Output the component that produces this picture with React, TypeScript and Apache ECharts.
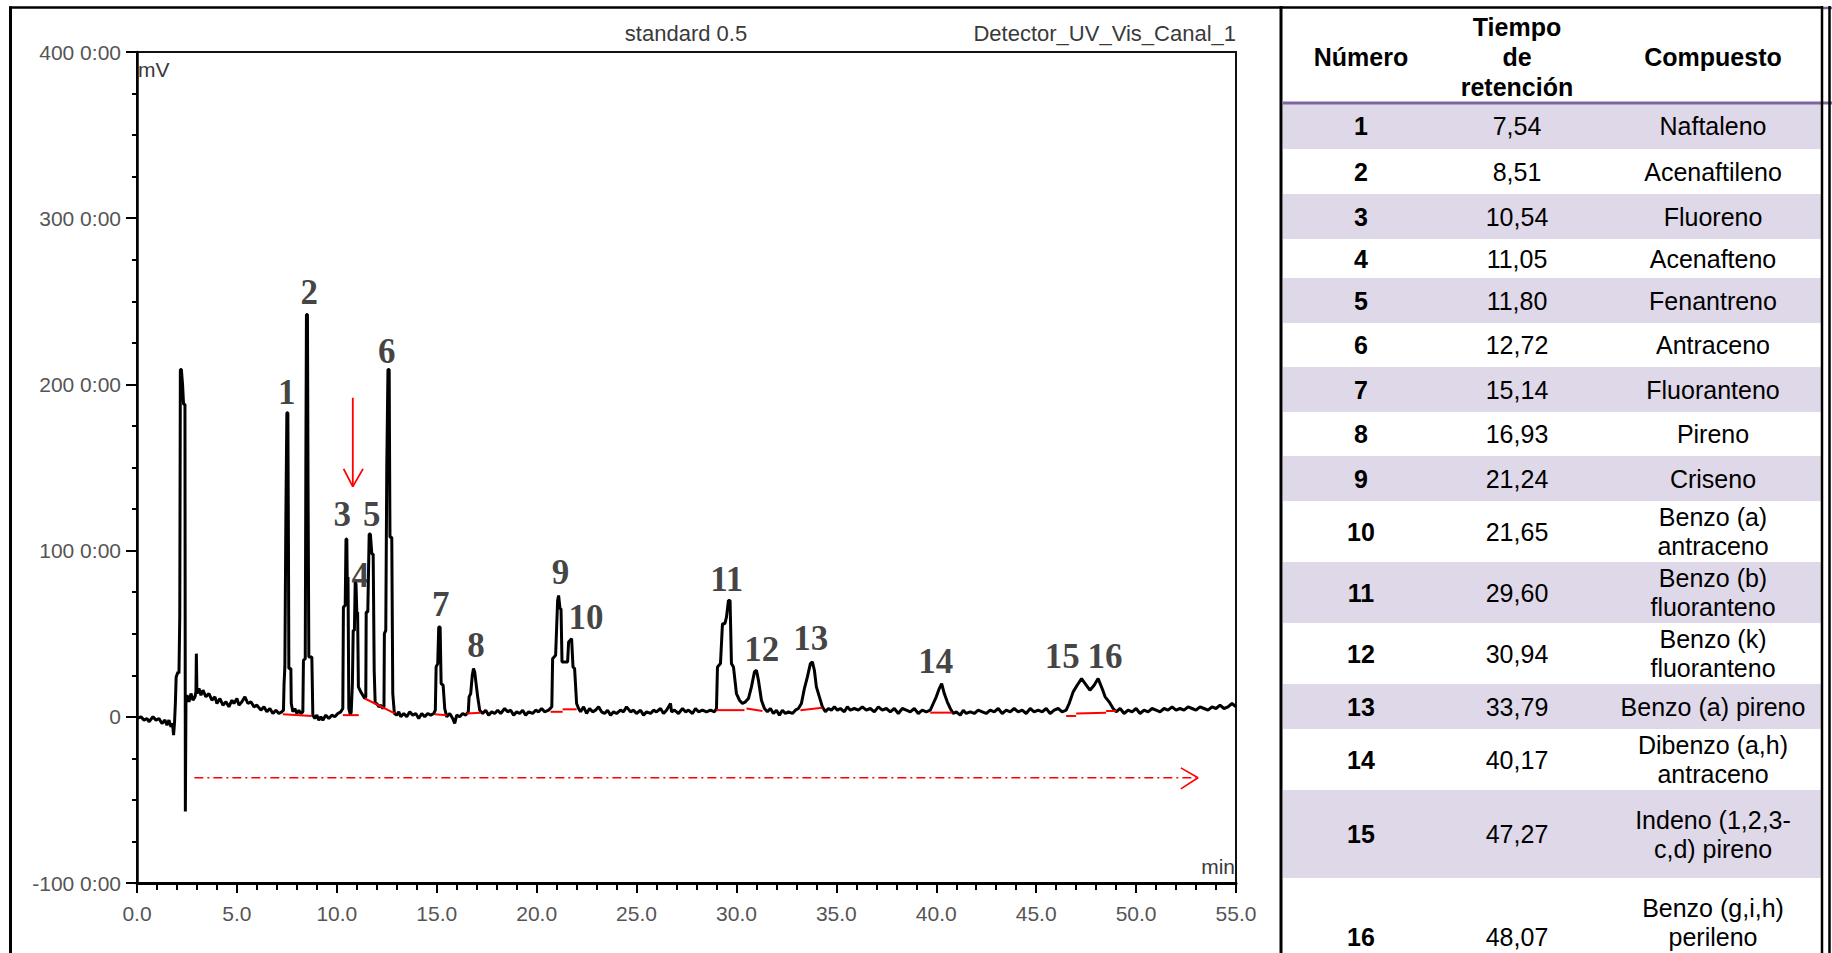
import React, { useEffect, useRef } from 'react';
import * as echarts from 'echarts';

// ---------- chromatogram trace (time in min, signal in thousands) ----------
const injectionTrace = [
  [0, -1], [0.2, 0], [0.35, -2], [0.5, -1], [0.6, -3], [0.8, 0], [0.95, -2], [1.1, -1], [1.25, -4], [1.4, -2],
  [1.5, -5], [1.6, -2], [1.7, -6], [1.78, -4], [1.83, -11], [1.88, -3], [1.92, 8], [1.96, 24], [2.05, 27], [2.1, 26],
  [2.14, 60], [2.17, 209], [2.22, 209], [2.28, 200], [2.33, 188], [2.4, 188], [2.42, -57], [2.45, 10], [2.5, 13],
  [2.6, 9], [2.7, 14], [2.8, 10], [2.9, 12], [2.95, 15], [2.97, 38], [3.0, 14], [3.1, 17], [3.2, 13], [3.3, 16],
  [3.45, 12], [3.6, 14], [3.75, 10], [3.9, 12], [4.0, 8], [4.15, 11], [4.3, 7], [4.45, 9], [4.6, 6], [4.75, 10],
  [4.85, 8], [5.0, 11], [5.1, 7], [5.25, 9], [5.4, 12], [5.55, 8], [5.7, 9], [5.85, 6], [6.0, 7], [6.2, 4],
  [6.35, 6], [6.5, 3], [6.65, 5], [6.8, 2], [6.95, 4], [7.1, 2], [7.25, 3],
];
const earlyPeaksTrace = [
  [7.33, 4], [7.36, 20], [7.4, 30], [7.43, 30], [7.45, 120], [7.5, 183], [7.55, 183], [7.58, 100], [7.6, 29],
  [7.7, 29], [7.72, 8], [7.8, 3], [7.9, 5], [8.0, 2], [8.1, 4], [8.2, 2],
  [8.3, 3], [8.33, 34], [8.42, 35], [8.45, 150], [8.48, 242], [8.53, 242], [8.56, 140], [8.6, 36], [8.75, 36],
  [8.8, 1], [8.9, -1], [9.0, 1], [9.1, -2], [9.2, 0], [9.3, -2], [9.45, 1], [9.6, -1], [9.75, 1], [9.9, 0],
  [10.05, 2], [10.2, 3],
  [10.3, 5], [10.33, 66], [10.42, 67], [10.46, 107], [10.5, 107], [10.52, 84], [10.56, 84], [10.6, 5], [10.68, 1],
  [10.72, 3], [10.78, 20], [10.82, 52], [10.88, 52], [10.92, 81], [10.96, 80], [11.0, 63], [11.04, 63], [11.08, 18],
  [11.2, 15], [11.3, 13], [11.4, 11], [11.45, 12], [11.47, 63], [11.55, 63], [11.62, 110], [11.68, 110],
  [11.75, 98], [11.82, 98], [11.87, 28], [11.92, 8], [12.0, 8], [12.1, 6], [12.2, 7], [12.3, 5],
  [12.36, 6], [12.38, 50], [12.45, 52], [12.5, 150], [12.56, 209], [12.62, 209], [12.66, 108], [12.75, 108],
  [12.8, 14], [12.88, 2], [13.0, 1], [13.1, 3], [13.2, 0], [13.35, 2], [13.5, 0], [13.65, 3], [13.8, 1],
  [13.95, 2], [14.1, -1], [14.25, 2], [14.4, 0], [14.55, 2], [14.7, 1], [14.85, 2],
];
const middlePeaksTrace = [
  [14.93, 4], [14.97, 30], [15.05, 32], [15.1, 54], [15.17, 54], [15.22, 20], [15.32, 19], [15.4, 5], [15.5, 0],
  [15.65, 2], [15.8, -1], [15.9, -4], [16.0, 1], [16.15, 0], [16.3, 2], [16.45, 1],
  [16.58, 3], [16.62, 12], [16.7, 14], [16.78, 25], [16.84, 29], [16.9, 27], [16.97, 20], [17.05, 12], [17.15, 4],
  [17.3, 2], [17.45, 4], [17.6, 1], [17.75, 3], [17.9, 2], [18.05, 4], [18.2, 2], [18.4, 5], [18.55, 3],
  [18.7, 4], [18.85, 1], [19.0, 3], [19.15, 2], [19.3, 4], [19.45, 1], [19.6, 3], [19.8, 2], [19.95, 4],
  [20.1, 3], [20.25, 5], [20.4, 3], [20.6, 4],
  [20.76, 6], [20.8, 35], [20.95, 37], [21.05, 70], [21.1, 73], [21.17, 65], [21.22, 65], [21.27, 33],
  [21.55, 33], [21.6, 45], [21.75, 47], [21.82, 30], [21.9, 29], [22.0, 8], [22.1, 5], [22.2, 3], [22.35, 6],
  [22.5, 2], [22.65, 5], [22.8, 3], [22.95, 4], [23.1, 6], [23.25, 3], [23.4, 2], [23.55, 4], [23.7, 1],
  [23.85, 3], [24.0, 2], [24.2, 4], [24.35, 3], [24.5, 6], [24.7, 3], [24.85, 4], [25.0, 2], [25.2, 4],
  [25.35, 1], [25.5, 3], [25.7, 2], [25.85, 4], [26.0, 3], [26.2, 5], [26.35, 2], [26.5, 4], [26.7, 8],
  [26.75, 3], [26.9, 4], [27.1, 2], [27.3, 5], [27.45, 3], [27.6, 4], [27.8, 2], [27.95, 5], [28.1, 3],
  [28.3, 4], [28.5, 3], [28.7, 4], [28.9, 3],
];
const latePeaksTrace = [
  [29.0, 5], [29.05, 30], [29.2, 32], [29.3, 56], [29.42, 56], [29.5, 60], [29.6, 70], [29.68, 70], [29.75, 32],
  [29.85, 30], [30.0, 14], [30.15, 10], [30.3, 8], [30.45, 9],
  [30.6, 11], [30.75, 18], [30.9, 27], [31.0, 28], [31.1, 22], [31.25, 10], [31.4, 5], [31.55, 3], [31.7, 5],
  [31.85, 2], [32.0, 4], [32.15, 1], [32.3, 4], [32.45, 2], [32.6, 3], [32.8, 2], [32.95, 4], [33.1, 5],
  [33.25, 8], [33.4, 17], [33.55, 24], [33.7, 32], [33.8, 33], [33.9, 28], [34.0, 18], [34.15, 12], [34.3, 6],
  [34.45, 3], [34.6, 5], [34.75, 4], [34.9, 6], [35.05, 4], [35.2, 5], [35.4, 3], [35.55, 6], [35.7, 4],
  [35.9, 5], [36.1, 4], [36.3, 6], [36.5, 4], [36.7, 5], [36.9, 3], [37.1, 6], [37.3, 4], [37.5, 5], [37.7, 3],
  [37.9, 5], [38.1, 2], [38.3, 5], [38.5, 4], [38.7, 3], [38.9, 5], [39.1, 2], [39.3, 4], [39.5, 3],
  [39.7, 4], [39.85, 8], [40.0, 12], [40.15, 17], [40.27, 20], [40.4, 14], [40.55, 9], [40.7, 5], [40.85, 2],
  [41.0, 3], [41.2, 1], [41.35, 4], [41.5, 2], [41.7, 3], [41.9, 2], [42.1, 4], [42.3, 3], [42.5, 2], [42.7, 4],
  [42.9, 3], [43.1, 5], [43.3, 2], [43.5, 4], [43.7, 3], [43.9, 5], [44.1, 3], [44.3, 4], [44.5, 2], [44.7, 5],
  [44.9, 3], [45.1, 4], [45.3, 3], [45.5, 5], [45.7, 2], [45.9, 4], [46.1, 5], [46.3, 3],
  [46.5, 4], [46.65, 8], [46.85, 15], [47.05, 19], [47.27, 23], [47.45, 20], [47.69, 16], [47.9, 19], [48.1, 23],
  [48.3, 17], [48.45, 12], [48.65, 9], [48.85, 5], [49.0, 3], [49.2, 5], [49.4, 2], [49.6, 4], [49.8, 3],
  [50.0, 5], [50.2, 2], [50.4, 4], [50.6, 3], [50.8, 5], [51.0, 4], [51.2, 3], [51.4, 5], [51.6, 4], [51.8, 6],
  [52.0, 4], [52.2, 5], [52.4, 4], [52.6, 6], [52.8, 5], [53.0, 4], [53.2, 6], [53.4, 5], [53.6, 4], [53.8, 6],
  [54.0, 5], [54.2, 7], [54.4, 5], [54.6, 6], [54.8, 8], [55.0, 6],
];

// integration baselines (red)
const baselineSegments = [
  [[7.3, 1.5], [8.75, 0.5]],
  [[10.3, 1], [11.1, 1]],
  [[11.4, 11], [12.9, 2]],
  [[14.9, 1.5], [15.5, 1]],
  [[16.5, 2], [17.2, 2.5]],
  [[20.7, 3], [21.3, 3]],
  [[21.3, 4.5], [22.0, 4.5]],
  [[29.0, 4], [30.4, 4]],
  [[30.5, 5], [31.3, 3.5]],
  [[33.2, 4], [34.3, 5.5]],
  [[39.7, 2.5], [40.8, 2.5]],
  [[46.5, 0.5], [47.0, 0.5]],
  [[47.0, 2], [48.5, 2.5]],
  [[48.5, 3.5], [49.0, 3.5]],
];

// peak labels
const peakLabels = ['1', '2', '3', '4', '5', '6', '7', '8', '9', '10', '11', '12', '13', '14', '15', '16'];
const peakLabelTimes = [7.5, 8.62, 10.27, 11.17, 11.75, 12.5, 15.2, 16.97, 21.2, 22.47, 29.51, 31.27, 33.72, 39.97, 46.31, 48.44];
const peakLabelValues = [195, 255, 122, 85, 122, 220, 67.5, 42.8, 87, 60, 82.5, 40.4, 47.3, 33.2, 36.3, 36.3];

// red annotation arrows (data units)
const downArrowShaft = [[10.8, 192], [10.8, 138.5]];
const downArrowHead = [[10.34, 149.2], [10.8, 138.5], [11.31, 149.2]];
const timeArrowShaft = [[2.87, -36.7], [53.0, -36.7]];
const timeArrowHead = [[52.24, -30.7], [53.1, -36.7], [52.24, -43.4]];

// ---------- table ----------
const tableNumbers = ['1', '2', '3', '4', '5', '6', '7', '8', '9', '10', '11', '12', '13', '14', '15', '16'];
const retentionTimes = ['7,54', '8,51', '10,54', '11,05', '11,80', '12,72', '15,14', '16,93', '21,24', '21,65', '29,60', '30,94', '33,79', '40,17', '47,27', '48,07'];
const compounds = [
  'Naftaleno', 'Acenaftileno', 'Fluoreno', 'Acenafteno', 'Fenantreno', 'Antraceno', 'Fluoranteno', 'Pireno', 'Criseno',
  'Benzo (a)\nantraceno', 'Benzo (b)\nfluoranteno', 'Benzo (k)\nfluoranteno', 'Benzo (a) pireno',
  'Dibenzo (a,h)\nantraceno', 'Indeno (1,2,3-\nc,d) pireno', 'Benzo (g,i,h)\nperileno',
];
const headerLabels = ['Número', 'Tiempo\nde\nretención', 'Compuesto'];

const SANS = '"Liberation Sans", Arial, sans-serif';

function buildTableGraphics() {
  const g: any[] = [];
  const rowEdges = [103, 149, 194, 239, 278, 323, 367, 412, 456, 501, 562, 623, 684, 729, 790, 878, 996];
  const tLeft = 1283;
  const tRight = 1821;
  const colX = [1361, 1517, 1713];
  for (let i = 0; i < 16; i++) {
    if (i % 2 === 0) {
      g.push({
        type: 'rect', silent: true, z: 1,
        shape: { x: tLeft, y: rowEdges[i], width: tRight - tLeft, height: rowEdges[i + 1] - rowEdges[i] },
        style: { fill: '#DFD8E8' },
      });
    }
  }
  const txt = (x: number, y: number, text: string, bold: boolean, size: number, lh: number) => ({
    type: 'text', silent: true, z: 5, x, y,
    style: {
      text, fill: '#000', fontFamily: SANS, fontWeight: bold ? 'bold' : 'normal', fontSize: size,
      lineHeight: lh, align: 'center', verticalAlign: 'middle', textAlign: 'center', textVerticalAlign: 'middle',
    },
  });
  // header
  g.push(txt(colX[0], 57, headerLabels[0], true, 25, 30));
  g.push(txt(colX[1], 57, headerLabels[1], true, 25, 30));
  g.push(txt(colX[2], 57, headerLabels[2], true, 25, 30));
  for (let i = 0; i < 16; i++) {
    let yc = (rowEdges[i] + rowEdges[i + 1]) / 2;
    let yComp = yc;
    if (i === 15) { yc = 937; yComp = 922.5; }
    g.push(txt(colX[0], yc, tableNumbers[i], true, 25, 30));
    g.push(txt(colX[1], yc, retentionTimes[i], false, 25, 30));
    g.push(txt(colX[2], yComp, compounds[i], false, 25, 29));
  }
  const line = (x1: number, y1: number, x2: number, y2: number, stroke: string, w: number) => ({
    type: 'line', silent: true, z: 10, shape: { x1, y1, x2, y2 }, style: { stroke, lineWidth: w },
  });
  // header rule + table borders
  g.push(line(1283, 103, 1832, 103, '#8064A2', 3));
  g.push(line(1281, 7.5, 1822, 7.5, '#000', 2.5));
  g.push(line(1822, 8, 1832, 8, '#8064A2', 2.5));
  g.push(line(1822, 6, 1822, 953, '#000', 2.5));
  g.push(line(1829.5, 6, 1829.5, 953, '#000', 2.5));
  // chart panel frame
  g.push(line(10.5, 6.5, 10.5, 953, '#000', 3));
  g.push(line(9, 7.5, 1282, 7.5, '#000', 2.5));
  g.push(line(1281, 6, 1281, 953, '#000', 3));
  return g;
}

function buildChartTexts() {
  const base = { fill: '#3a3a3a', fontFamily: SANS, fontSize: 22 };
  return [
    { type: 'text', silent: true, x: 686, y: 33, style: { ...base, text: 'standard 0.5', align: 'center', verticalAlign: 'middle', textAlign: 'center', textVerticalAlign: 'middle' } },
    { type: 'text', silent: true, x: 1236, y: 33, style: { ...base, text: 'Detector_UV_Vis_Canal_1', align: 'right', verticalAlign: 'middle', textAlign: 'right', textVerticalAlign: 'middle' } },
    { type: 'text', silent: true, x: 138, y: 69, style: { ...base, fontSize: 21, text: 'mV', align: 'left', verticalAlign: 'middle', textAlign: 'left', textVerticalAlign: 'middle' } },
    { type: 'text', silent: true, x: 1235, y: 866, style: { ...base, fontSize: 21, text: 'min', align: 'right', verticalAlign: 'middle', textAlign: 'right', textVerticalAlign: 'middle' } },
  ];
}

export default function App() {
  const ref = useRef<HTMLDivElement>(null);
  useEffect(() => {
    if (!ref.current) return;
    const chart = echarts.init(ref.current, undefined, { renderer: 'svg' });
    const trace = [...injectionTrace, ...earlyPeaksTrace, ...middlePeaksTrace, ...latePeaksTrace];
    const redLine = (data: number[][], extra: any = {}) => ({
      type: 'line', data, symbol: 'none', silent: true, z: 4,
      lineStyle: { color: '#ff0000', width: 1.8, ...extra },
    });
    const option: any = {
      animation: false,
      backgroundColor: '#ffffff',
      grid: {
        left: 137, top: 52, right: 596, bottom: 70, show: true, borderColor: '#111', borderWidth: 2,
        containLabel: false, outerBoundsMode: 'none',
      },
      xAxis: {
        type: 'value', min: 0, max: 55, interval: 5,
        axisLine: { show: true, onZero: false, lineStyle: { color: '#000', width: 3 } },
        axisTick: { show: true, length: 10, lineStyle: { color: '#000', width: 2 } },
        minorTick: { show: true, splitNumber: 5, length: 7, lineStyle: { color: '#000', width: 2 } },
        splitLine: { show: false },
        axisLabel: {
          color: '#555', fontFamily: SANS, fontSize: 21, margin: 20,
          formatter: (v: number) => v.toFixed(1),
        },
      },
      yAxis: {
        type: 'value', min: -100, max: 400, interval: 100,
        axisLine: { show: true, onZero: false, lineStyle: { color: '#000', width: 2.5 } },
        axisTick: { show: true, length: 11, lineStyle: { color: '#000', width: 2 } },
        minorTick: { show: true, splitNumber: 4, length: 5, lineStyle: { color: '#000', width: 2 } },
        splitLine: { show: false },
        axisLabel: {
          color: '#555', fontFamily: SANS, fontSize: 21, margin: 16,
          formatter: (v: number) => (v === 0 ? '0' : `${v} 0:00`),
        },
      },
      graphic: [...buildChartTexts(), ...buildTableGraphics()],
      series: [
        {
          type: 'line', data: trace, symbol: 'none', silent: true, z: 3,
          lineStyle: { color: '#000', width: 3 },
        },
        ...baselineSegments.map((s) => redLine(s, { width: 2 })),
        redLine(downArrowShaft),
        redLine(downArrowHead),
        redLine(timeArrowShaft, { type: [9, 4, 2, 4], width: 1.6 }),
        redLine(timeArrowHead, { width: 1.6 }),
        {
          type: 'scatter', symbolSize: 1, silent: true, z: 6,
          itemStyle: { color: 'rgba(0,0,0,0)' },
          data: peakLabels.map((n, i) => ({ name: n, value: [peakLabelTimes[i], peakLabelValues[i]] })),
          label: {
            show: true, position: 'inside', formatter: '{b}', color: '#111',
            fontFamily: '"Liberation Serif", "DejaVu Serif", serif', fontWeight: 'bold', fontSize: 35,
          },
        },
      ],
    };
    chart.setOption(option);
    return () => chart.dispose();
  }, []);
  return (
    <div
      ref={ref}
      style={{ position: 'fixed', left: 0, top: 0, width: 1832, height: 953, background: '#fff' }}
    />
  );
}
